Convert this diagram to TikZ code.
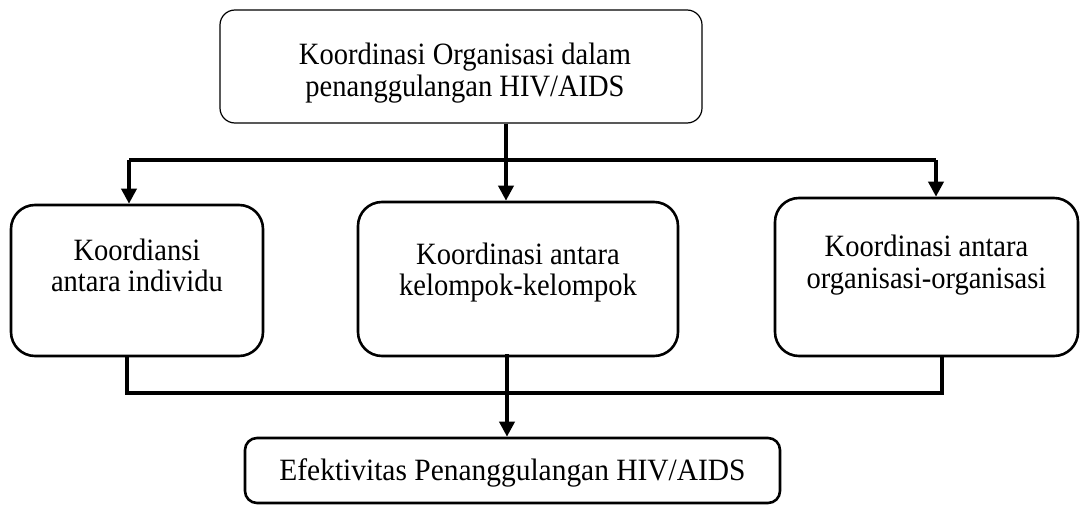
\documentclass[tikz,border=0pt]{standalone}
\usepackage{fontspec}
\setmainfont{Liberation Serif}
\usetikzlibrary{arrows.meta}
\begin{document}
\begin{tikzpicture}[x=1pt,y=-1pt,
  thinbox/.style={draw, line width=1.2pt, rounded corners=15pt},
  thickbox/.style={draw, line width=2.6pt, rounded corners=24pt},
  botbox/.style={draw, line width=2.6pt, rounded corners=12pt},
  txt/.style={align=center, inner sep=0pt, anchor=base, xscale=0.92,
    font=\fontsize{31}{32}\selectfont},
  conn/.style={line width=3.6pt},
  arr/.style={line width=3.6pt, -{Triangle[length=15pt,width=15pt]}}
]
\useasboundingbox (0,0) rectangle (1080,505);
% boxes
\node[thinbox, minimum width=482pt, minimum height=113pt] (top) at (461,66.5) {};
\node[txt] (toptxt) at (465,97) {Koordinasi Organisasi dalam\\penanggulangan HIV/AIDS};
\node[thickbox, minimum width=252pt, minimum height=151pt] (left) at (137,280.5) {};
\node[txt] (lefttxt) at (137,292) {Koordiansi\\antara individu};
\node[thickbox, minimum width=320pt, minimum height=154pt] (mid) at (518,279) {};
\node[txt] (midtxt) at (518,296) {Koordinasi antara\\kelompok-kelompok};
\node[thickbox, minimum width=303pt, minimum height=158pt] (right) at (926.5,277) {};
\node[txt] (righttxt) at (926.5,289) {Koordinasi antara\\organisasi-organisasi};
\node[botbox, minimum width=535pt, minimum height=65pt] (bot) at (512.5,470.5) {};
\node[txt, xscale=0.95/0.92] (bottxt) at (512.5,480) {Efektivitas Penanggulangan HIV/AIDS};
% junctions
\coordinate (hl) at (129,160);
\coordinate (hm) at (506,160);
\coordinate (hr) at (936,160);
\coordinate (bl) at (127,393);
\coordinate (bm) at (507,393);
\coordinate (br) at (942,393);
% connectors
\draw[conn] (hm |- top.south) -- (hm);
\draw[conn] (hl) -- (hr);
\draw[arr] (hm) -- (hm |- mid.north);
\draw[arr] (hl) -- (hl |- left.north);
\draw[arr] (hr) -- (hr |- right.north);
\draw[conn] (bl |- left.south) -- (bl) -- (br) -- (br |- right.south);
\draw[arr] ([yshift=3pt]bm |- mid.south) -- (bm |- bot.north);
\end{tikzpicture}
\end{document}
